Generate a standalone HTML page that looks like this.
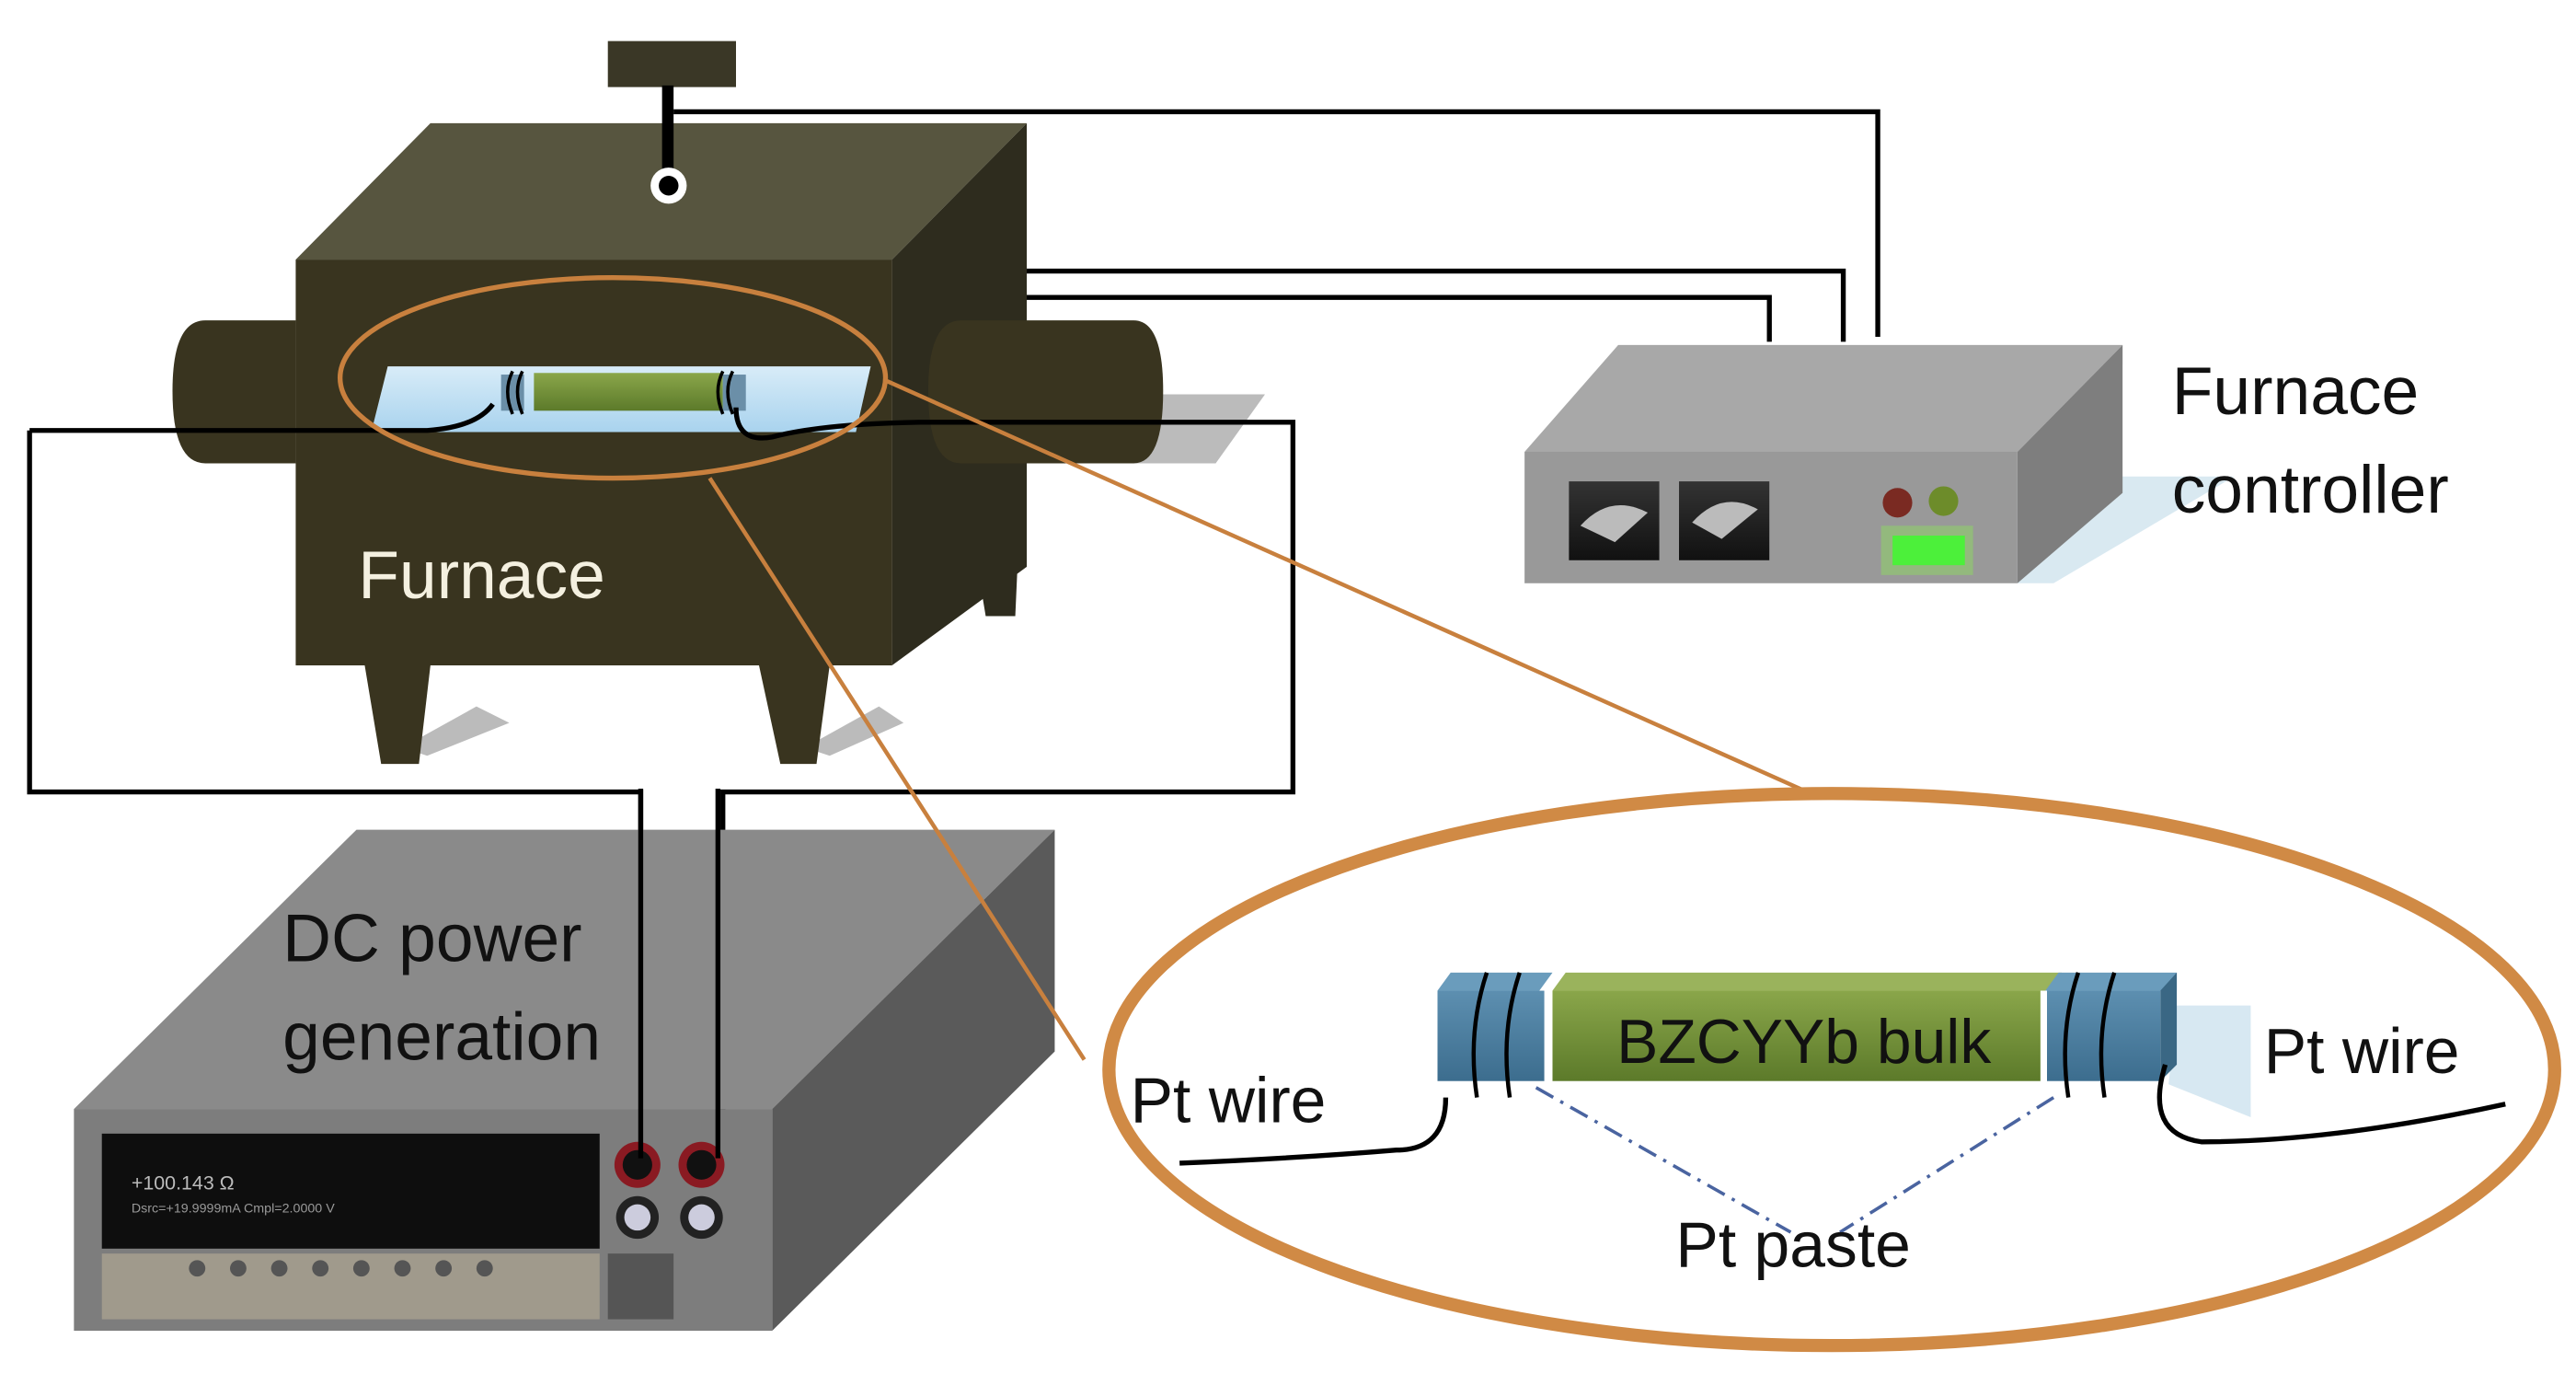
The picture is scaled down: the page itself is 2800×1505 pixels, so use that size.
<!DOCTYPE html>
<html><head><meta charset="utf-8"><style>
html,body{margin:0;padding:0;background:#fff;}
svg{display:block;}
text{font-family:"Liberation Sans","DejaVu Sans",sans-serif;}
</style></head><body>
<svg width="2800" height="1505" viewBox="0 0 1568 843" preserveAspectRatio="none" xmlns="http://www.w3.org/2000/svg">
<defs>
<linearGradient id="win" x1="0" y1="0" x2="0" y2="1"><stop offset="0" stop-color="#d8ecf8"/><stop offset="1" stop-color="#a9d3ee"/></linearGradient>
<linearGradient id="grn" x1="0" y1="0" x2="0" y2="1"><stop offset="0" stop-color="#8aa64a"/><stop offset="1" stop-color="#5c7a2a"/></linearGradient>
<linearGradient id="blu" x1="0" y1="0" x2="0" y2="1"><stop offset="0" stop-color="#5d8fb0"/><stop offset="1" stop-color="#3c6d8e"/></linearGradient>
<linearGradient id="met" x1="0" y1="0" x2="0" y2="1"><stop offset="0" stop-color="#333"/><stop offset="1" stop-color="#111"/></linearGradient>
</defs>

<!-- shadows -->
<polygon points="610,240 770,240 740,282 600,282" fill="#bbb"/>
<polygon points="1228,290 1360,290 1250,355 1228,355" fill="#cfe3ee" opacity="0.8"/>
<polygon points="245,455 290,430 310,440 260,460" fill="#bbb"/>
<polygon points="490,455 535,430 550,440 505,460" fill="#bbb"/>
<polygon points="1325,612 1370,612 1370,680 1320,660" fill="#d7e8f2"/>

<!-- furnace wires top -->
<polyline points="410,68 1143,68 1143,205" fill="none" stroke="#000" stroke-width="3"/>
<polyline points="620,165 1122,165 1122,208" fill="none" stroke="#000" stroke-width="3"/>
<polyline points="620,181 1077,181 1077,208" fill="none" stroke="#000" stroke-width="3"/>

<!-- furnace -->
<rect x="370" y="25" width="78" height="28" fill="#3a3726"/>
<polygon points="180,158 262,75 625,75 543,158" fill="#57553f"/>
<polygon points="543,158 625,75 625,345 543,405" fill="#2e2c1e"/>
<polygon points="595,345 620,330 618,375 600,375" fill="#2e2c1e"/>
<rect x="180" y="158" width="363" height="247" fill="#39341f"/>
<polygon points="222,405 262,405 255,465 232,465" fill="#39341f"/>
<polygon points="462,405 505,405 497,465 475,465" fill="#39341f"/>
<path d="M125,195 L180,195 L180,282 L125,282 Q105,282 105,238 Q105,195 125,195Z" fill="#39341f"/>
<path d="M585,195 L690,195 Q708,195 708,238 Q708,282 690,282 L585,282 Q565,282 565,238 Q565,195 585,195Z" fill="#39341f"/>
<rect x="403" y="52" width="7" height="58" fill="#000"/>
<circle cx="407" cy="113" r="11" fill="#fff"/><circle cx="407" cy="113" r="6" fill="#000"/>
<polygon points="236,223 530,223 521,263 226,263" fill="url(#win)"/>
<rect x="325" y="227" width="115" height="23" fill="url(#grn)"/>
<rect x="305" y="228" width="14" height="22" fill="#6b8fa8"/><rect x="440" y="228" width="14" height="22" fill="#6b8fa8"/>
<path d="M312,226 q-6,12 0,26 M318,226 q-6,12 0,26 M440,226 q-6,12 0,26 M446,226 q-6,12 0,26" stroke="#000" stroke-width="2" fill="none"/>
<text x="218" y="364" font-size="41" fill="#f4f0e0">Furnace</text>

<!-- loop wires -->
<path d="M18,262 L260,262 Q290,260 300,246" fill="none" stroke="#000" stroke-width="3"/>
<polyline points="18,262 18,482 390,482 390,700" fill="none" stroke="#000" stroke-width="3"/>
<polyline points="440,700 440,482 787,482 787,257 560,257" fill="none" stroke="#000" stroke-width="3"/>
<path d="M560,257 Q500,258 470,266 Q448,270 448,248" fill="none" stroke="#000" stroke-width="3"/>

<ellipse cx="373" cy="230" rx="166" ry="61" fill="none" stroke="#c8803e" stroke-width="3"/>

<!-- controller -->
<polygon points="928,275 985,210 1292,210 1228,275" fill="#a8a8a8"/>
<polygon points="1228,275 1292,210 1292,300 1228,355" fill="#7e7e7e"/>
<rect x="928" y="275" width="300" height="80" fill="#999"/>
<rect x="955" y="293" width="55" height="48" fill="url(#met)"/>
<rect x="1022" y="293" width="55" height="48" fill="url(#met)"/>
<path d="M962,320 Q980,300 1003,312 L983,330Z" fill="#bbb"/>
<path d="M1030,318 Q1048,298 1070,310 L1048,328Z" fill="#bbb"/>
<circle cx="1155" cy="306" r="9" fill="#7a2a22"/><circle cx="1183" cy="305" r="9" fill="#6d8c2a"/>
<rect x="1145" y="320" width="56" height="30" fill="#8fcf6a" opacity="0.6"/>
<rect x="1152" y="326" width="44" height="18" fill="#4cf03a"/>
<text x="1322" y="252" font-size="41" fill="#111">Furnace</text>
<text x="1322" y="312" font-size="41" fill="#111">controller</text>

<!-- DC power -->
<polygon points="45,675 217,505 642,505 470,675" fill="#8a8a8a"/>
<polygon points="470,675 642,505 642,640 470,810" fill="#5a5a5a"/>
<rect x="45" y="675" width="425" height="135" fill="#7d7d7d"/>
<rect x="62" y="690" width="303" height="70" fill="#0e0e0e"/>
<text x="80" y="724" font-size="12" fill="#bbb" font-family="Liberation Mono,monospace">+100.143 Ω</text>
<text x="80" y="738" font-size="8" fill="#999" font-family="Liberation Mono,monospace">Dsrc=+19.9999mA   Cmpl=2.0000 V</text>
<rect x="62" y="763" width="303" height="40" fill="#a09a8c"/>
<g fill="#555"><circle cx="120" cy="772" r="5"/><circle cx="145" cy="772" r="5"/><circle cx="170" cy="772" r="5"/><circle cx="195" cy="772" r="5"/><circle cx="220" cy="772" r="5"/><circle cx="245" cy="772" r="5"/><circle cx="270" cy="772" r="5"/><circle cx="295" cy="772" r="5"/></g>
<rect x="370" y="763" width="40" height="40" fill="#555"/>
<circle cx="388" cy="709" r="14" fill="#8a1a22"/><circle cx="388" cy="709" r="9" fill="#111"/>
<circle cx="427" cy="709" r="14" fill="#8a1a22"/><circle cx="427" cy="709" r="9" fill="#111"/>
<circle cx="388" cy="741" r="13" fill="#222"/><circle cx="388" cy="741" r="8" fill="#ccd"/>
<circle cx="427" cy="741" r="13" fill="#222"/><circle cx="427" cy="741" r="8" fill="#ccd"/>
<line x1="390" y1="480" x2="390" y2="705" stroke="#000" stroke-width="3"/>
<line x1="437" y1="480" x2="437" y2="705" stroke="#000" stroke-width="3"/>
<text x="172" y="585" font-size="41" fill="#111">DC power</text>
<text x="172" y="645" font-size="41" fill="#111">generation</text>

<!-- orange connectors -->
<line x1="540" y1="232" x2="1100" y2="482" stroke="#c8803e" stroke-width="2.5"/>
<line x1="432" y1="291" x2="660" y2="645" stroke="#c8803e" stroke-width="2.5"/>

<!-- big ellipse -->
<ellipse cx="1115" cy="651" rx="440" ry="168" fill="none" stroke="#d08a45" stroke-width="8"/>
<!-- sample -->
<polygon points="875,603 883,592 945,592 937,603" fill="#6a9cbc"/>
<polygon points="945,603 953,592 1255,592 1245,603" fill="#9ab35c"/>
<polygon points="1245,603 1253,592 1325,592 1325,603" fill="#6a9cbc"/>
<polygon points="1315,603 1325,592 1325,648 1315,658" fill="#3a6784"/>
<rect x="875" y="603" width="65" height="55" fill="url(#blu)"/>
<rect x="945" y="603" width="297" height="55" fill="url(#grn)"/>
<rect x="1246" y="603" width="69" height="55" fill="url(#blu)"/>
<text x="1098" y="647" font-size="38" fill="#111" text-anchor="middle">BZCYYb bulk</text>
<path d="M905,592 q-12,36 -6,76 M925,592 q-12,36 -6,76 M1265,592 q-12,36 -6,76 M1287,592 q-12,36 -6,76" stroke="#000" stroke-width="2.5" fill="none"/>
<path d="M880,668 Q880,700 850,700 Q790,705 718,708" fill="none" stroke="#000" stroke-width="3"/>
<path d="M1318,648 Q1305,690 1340,695 Q1420,695 1525,672" fill="none" stroke="#000" stroke-width="3"/>
<line x1="935" y1="662" x2="1090" y2="750" stroke="#4a64a0" stroke-width="2" stroke-dasharray="12,5,2,5"/>
<line x1="1250" y1="668" x2="1120" y2="750" stroke="#4a64a0" stroke-width="2" stroke-dasharray="12,5,2,5"/>
<text x="688" y="683" font-size="39" fill="#111">Pt wire</text>
<text x="1378" y="653" font-size="39" fill="#111">Pt wire</text>
<text x="1020" y="771" font-size="39" fill="#111">Pt paste</text>
</svg>
</body></html>
